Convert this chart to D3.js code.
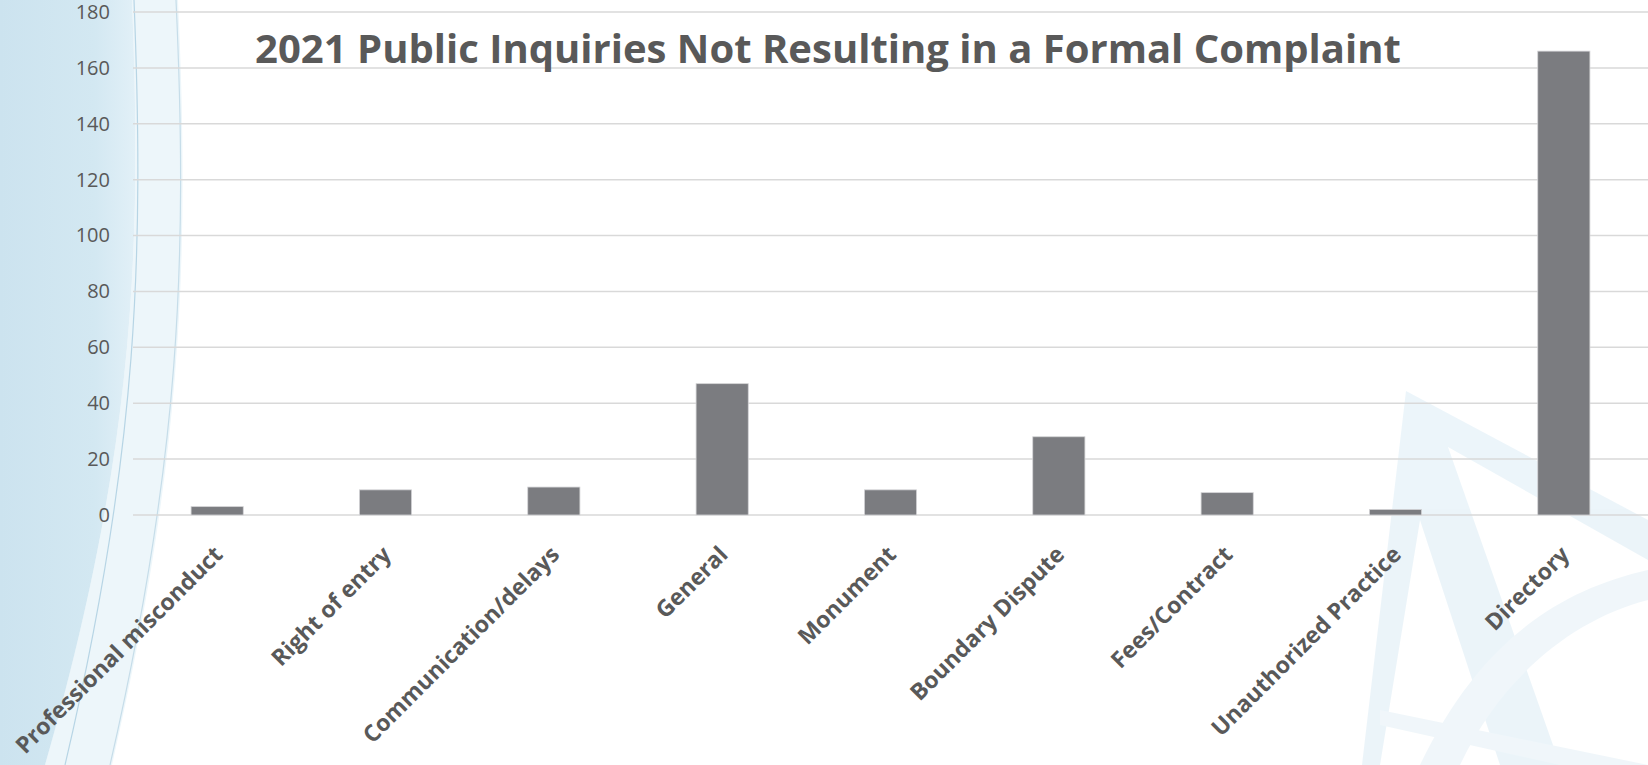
<!DOCTYPE html>
<html>
<head>
<meta charset="utf-8">
<script src="https://cdn.jsdelivr.net/npm/d3@7"></script>
<style>
  body { margin: 0; background: #fff; }
  svg { display: block; }
  text { font-family: "Open Sans", sans-serif; fill: #595959; }
</style>
</head>
<body>
<script>
// chart values
var categories = ["Professional misconduct", "Right of entry", "Communication/delays", "General",
                  "Monument", "Boundary Dispute", "Fees/Contract", "Unauthorized Practice", "Directory"];
var counts = [3, 9, 10, 47, 9, 28, 8, 2, 166];
var yTicks = [0, 20, 40, 60, 80, 100, 120, 140, 160, 180];
var title = "2021 Public Inquiries Not Resulting in a Formal Complaint";

var width = 1648, height = 765;
var plotLeft = 133, plotRight = 1648, plotTop = 12, plotBottom = 515;

var svg = d3.select("body").append("svg")
            .attr("width", width)
            .attr("height", height);

// --- template decoration (light blue swoosh on the left, faint compass bottom right)
var defs = svg.append("defs");
var grad = defs.append("linearGradient").attr("id", "swoosh").attr("x1", 0).attr("x2", 1);
grad.append("stop").attr("offset", "0%").attr("stop-color", "#cce3ef");
grad.append("stop").attr("offset", "70%").attr("stop-color", "#d3e8f2");
grad.append("stop").attr("offset", "100%").attr("stop-color", "#e2f0f7");

svg.append("path")
   .attr("d", "M132,0 L178,0 C190,260 182,460 112,765 L45,765 C135,450 142,250 132,0 Z")
   .attr("fill", "#edf6fa");
svg.append("path")
   .attr("d", "M0,0 L132,0 C142,250 135,450 45,765 L0,765 Z")
   .attr("fill", "url(#swoosh)");
svg.append("path")
   .attr("d", "M134,0 C144,250 139,450 65,765")
   .attr("fill", "none").attr("stroke", "#b7d5e5").attr("stroke-width", 1.2);
svg.append("path")
   .attr("d", "M176,0 C188,260 180,460 110,765")
   .attr("fill", "none").attr("stroke", "#c6dde9").attr("stroke-width", 1.2);

var deco = svg.append("g").attr("opacity", 0.55);
deco.append("path")
    .attr("d", "M1406,391 L1648,520 L1648,560 L1448,447 L1560,765 L1500,765 L1420,520 L1380,765 L1362,765 Z")
    .attr("fill", "#dcecf5");
deco.append("path")
    .attr("d", "M1420,765 C1480,640 1560,590 1648,570 L1648,600 C1570,620 1500,680 1460,765 Z")
    .attr("fill", "#e4f0f7");
deco.append("path")
    .attr("d", "M1380,710 L1648,765 L1560,765 L1380,725 Z")
    .attr("fill", "#e4f0f7");

// --- scales
var x = d3.scaleBand().domain(categories).range([plotLeft, plotRight]).paddingInner(0.69).paddingOuter(0.345);
var y = d3.scaleLinear().domain([0, 180]).range([plotBottom, plotTop]);

// gridlines
svg.append("g").selectAll("line").data(yTicks).enter().append("line")
   .attr("x1", plotLeft).attr("x2", plotRight)
   .attr("y1", function(d){ return y(d); })
   .attr("y2", function(d){ return y(d); })
   .attr("stroke", "#d9d9d9").attr("stroke-width", 1.5);

// y axis labels
var yAxis = d3.axisLeft(y).tickValues(yTicks).tickSize(0).tickPadding(0);
var gy = svg.append("g").attr("transform", "translate(110,0)").call(yAxis);
gy.select(".domain").remove();
gy.selectAll("text").attr("font-size", 20).style("font-family", "'Open Sans', sans-serif").attr("fill", "#595959");

// bars
svg.append("g").selectAll("rect").data(counts).enter().append("rect")
   .attr("x", function(d, i){ return x(categories[i]); })
   .attr("y", function(d){ return y(d); })
   .attr("width", x.bandwidth())
   .attr("height", function(d){ return plotBottom - y(d); })
   .attr("fill", "#7b7c80")
   .attr("stroke", "#d4d4d6").attr("stroke-width", 0.8);

// category labels, rotated
var xAxis = d3.axisBottom(x).tickSize(0).tickPadding(0);
var gx = svg.append("g").attr("transform", "translate(0," + plotBottom + ")").call(xAxis);
gx.select(".domain").remove();
gx.selectAll("text")
  .attr("font-size", 23).attr("font-weight", "bold")
  .style("font-family", "'Open Sans', sans-serif")
  .attr("fill", "#595959")
  .attr("text-anchor", "end")
  .attr("dy", null).attr("y", null)
  .attr("transform", "translate(7,41) rotate(-45)");

// title, fitted to its width in the picture
var t = svg.append("text")
   .attr("x", 828).attr("y", 63)
   .attr("text-anchor", "middle")
   .attr("font-weight", "bold")
   .attr("font-size", 40)
   .text(title);
var w = t.node().getComputedTextLength();
t.attr("font-size", 40 * 1146 / w);
</script>
</body>
</html>
